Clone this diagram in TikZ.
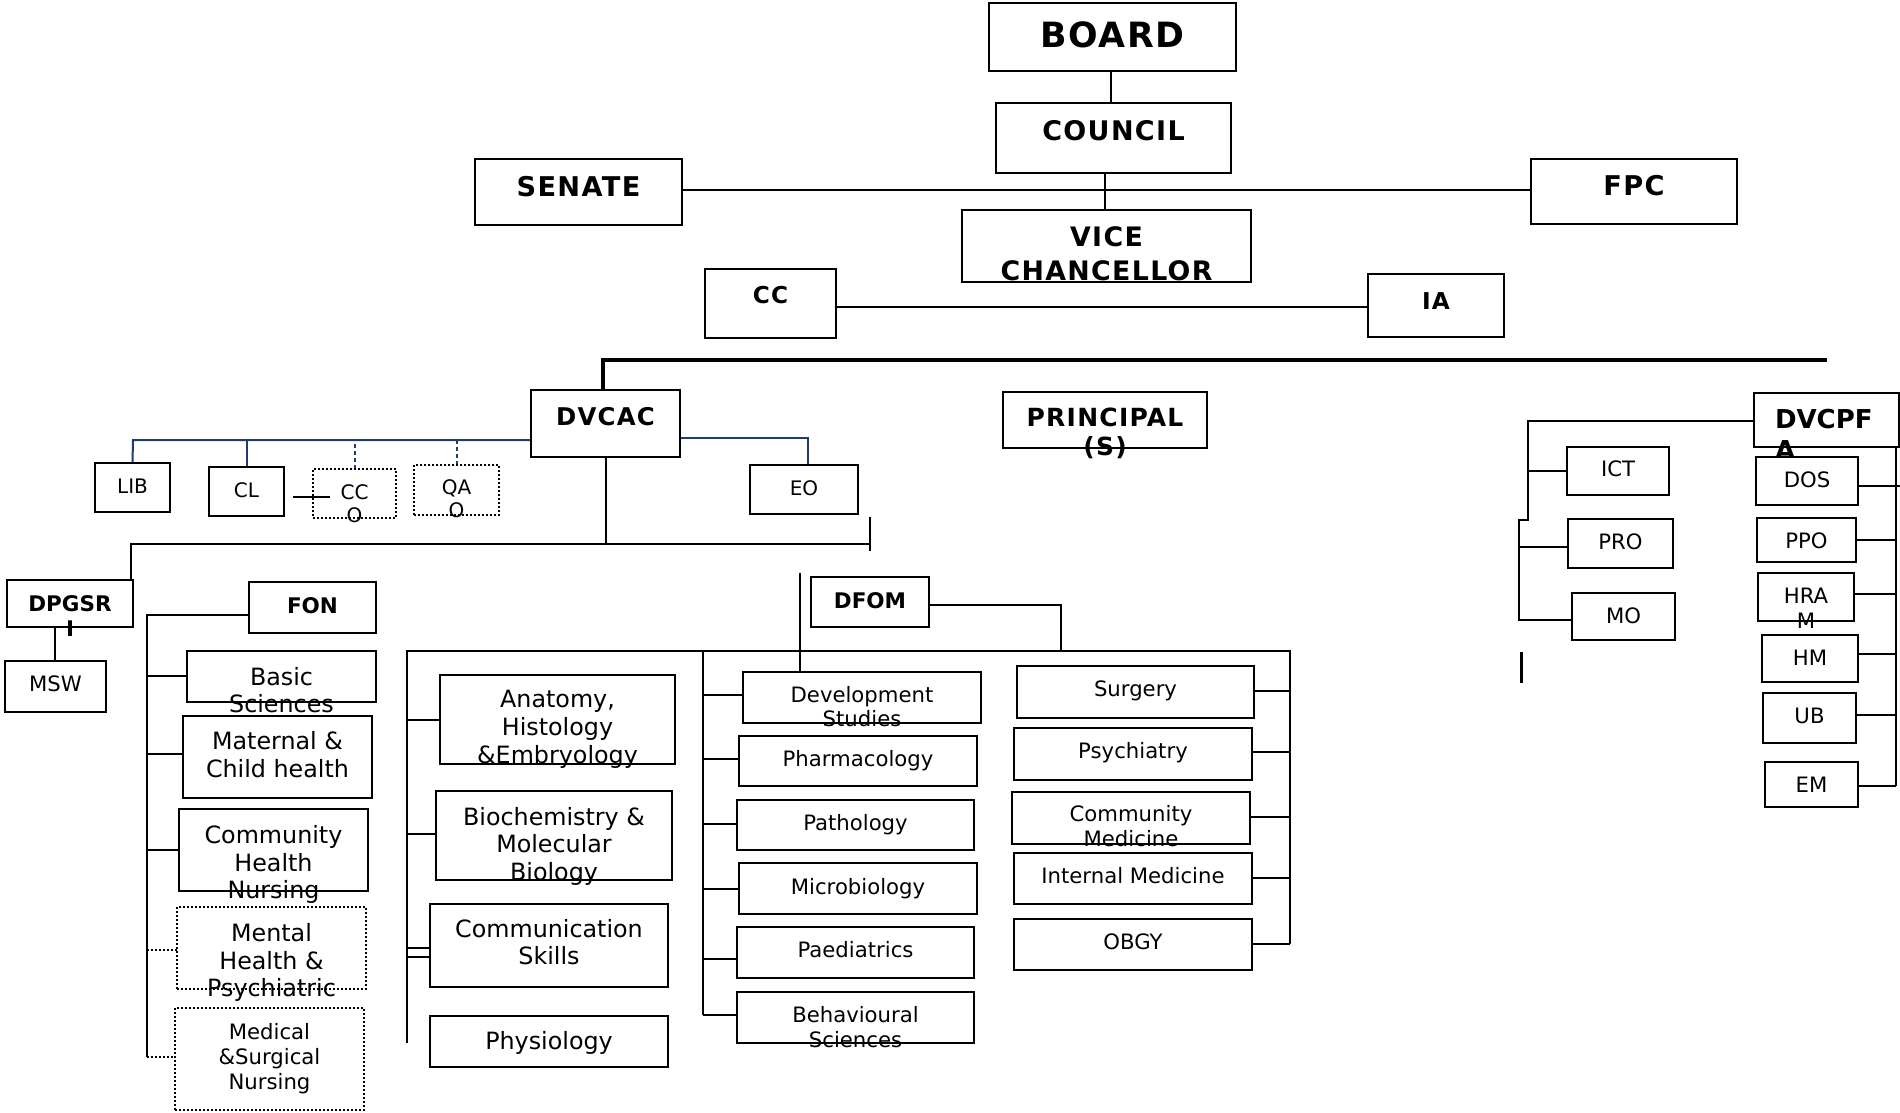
\documentclass[tikz,border=0pt]{standalone}
\usepackage{fontspec}
\setmainfont{DejaVu Sans}
\newfontfamily\spaced[LetterSpace=5]{DejaVu Sans}
\usetikzlibrary{backgrounds}
\definecolor{navy}{HTML}{1F3B73}
\newcommand\fz[2]{\fontsize{#1}{#2}\selectfont}
\newcommand\bx[6][]{\node[box,#1,minimum width={(#5-#3)*0.5pt},minimum height={(#6-#4)*0.5pt}] (#2) at ({(#3+#5)/2},{(#4+#6)/2}) {};}
\newcommand\tx[4][]{\node[txt,#1] (#2t) at ([yshift={-(#3)*0.5pt}]#2.north) {#4};}
\tikzset{
  box/.style={draw, line width=1pt, fill=white, inner sep=0pt, outer sep=0pt, shape=rectangle},
  dbox/.style={box, dash pattern=on 1pt off 1pt, line width=1pt},
  txt/.style={inner sep=0pt, outer sep=0pt, align=center, anchor=north, execute at begin node=\strut},
  con/.style={line width=0.9pt},
  conthin/.style={line width=0.7pt},
  nv/.style={draw=navy, line width=1pt},
  nvd/.style={nv, dash pattern=on 2pt off 1.5pt},
  tL/.style={font=\fz{11.9pt}{13.85pt}},
  tM/.style={font=\fz{10.6pt}{12.35pt}},
  tS/.style={font=\fz{10pt}{11.65pt}},
  tH/.style={font=\bfseries\fz{10.75pt}{12.5pt}},
}
\begin{document}
\begin{tikzpicture}[x=0.5pt,y=-0.5pt]
\useasboundingbox (0,0) rectangle (1900,1113);
% ---------- top level
\bx{board}{989}{3}{1236}{71}
\tx[font=\spaced\bfseries\fz{17.4pt}{20.2pt}]{board}{16.5}{BOARD}
\bx{council}{996}{103}{1231}{173}
\tx[font=\spaced\bfseries\fz{13.5pt}{15.7pt}]{council}{15.4}{COUNCIL}
\bx{senate}{475}{159}{682}{225}
\tx[font=\spaced\bfseries\fz{13.6pt}{15.8pt}]{senate}{15.7}{SENATE}
\bx{fpc}{1531}{159}{1737}{224}
\tx[font=\spaced\bfseries\fz{13.6pt}{15.8pt}]{fpc}{14}{FPC}
\bx{vc}{962}{210}{1251}{282}
\tx[font=\spaced\bfseries\fz{13.4pt}{17pt}]{vc}{17}{VICE\\CHANCELLOR}
\bx{cc}{705}{269}{836}{338}
\tx[font=\spaced\bfseries\fz{11.6pt}{13.5pt}]{cc}{15.3}{CC}
\bx{ia}{1368}{274}{1504}{337}
\tx[font=\spaced\bfseries\fz{11.6pt}{13.5pt}]{ia}{16.3}{IA}
\bx{dvcac}{531}{390}{680}{457}
\tx[font=\spaced\bfseries\fz{12.2pt}{14.2pt}]{dvcac}{15.8}{DVCAC}
\bx{principal}{1003}{392}{1207}{448}
\tx[font=\spaced\bfseries\fz{12.5pt}{14.8pt}]{principal}{15.5}{PRINCIPAL\\(S)}
\bx{dvcpfa}{1754}{393}{1899}{447}
\node[txt,anchor=north west,align=left,font=\bfseries\fz{13pt}{15.15pt}] (dvcpfat) at ([xshift=10.5pt,yshift=-8.2pt]dvcpfa.north west) {DVCPF\\A};
% ---------- DVCAC units
\bx{lib}{95}{463}{170}{512} \tx[tS]{lib}{14}{LIB}
\bx{cl}{209}{467}{284}{516} \tx[tS]{cl}{14}{CL}
\bx[dbox]{cco}{313}{469}{396}{518} \tx[tS]{cco}{15.5}{CC\\O}
\bx[dbox]{qao}{414}{465}{499}{515} \tx[tS]{qao}{14.5}{QA\\O}
\bx{eo}{750}{465}{858}{514} \tx[tS]{eo}{13.7}{EO}
\bx{dpgsr}{7}{580}{133}{627} \tx[tH]{dpgsr}{15.5}{DPGSR\\I}
\bx{msw}{5}{661}{106}{712} \tx[tM]{msw}{13.5}{MSW}
\bx{fon}{249}{582}{376}{633} \tx[tH]{fon}{13.5}{FON}
\bx{dfom}{811}{577}{929}{627} \tx[tH]{dfom}{13.5}{DFOM}
% ---------- FON
\bx{basic}{187}{651}{376}{702} \tx[tL]{basic}{16}{Basic\\Sciences}
\bx{maternal}{183}{716}{372}{798} \tx[tL]{maternal}{15.5}{Maternal \&\\Child health}
\bx{chn}{179}{809}{368}{891} \tx[tL]{chn}{16.3}{Community\\Health\\Nursing}
\bx[dbox]{mental}{177}{907}{366}{989} \tx[tL]{mental}{16.4}{Mental\\Health \&\\Psychiatric}
\bx[dbox]{medsurg}{175}{1008}{364}{1110} \tx[tM]{medsurg}{15.5}{Medical\\\&Surgical\\Nursing}
% ---------- medical column 1
\bx{anatomy}{440}{675}{675}{764} \tx[tL]{anatomy}{15.6}{Anatomy,\\Histology\\\&Embryology}
\bx{biochem}{436}{791}{672}{880} \tx[tL]{biochem}{16}{Biochemistry \&\\Molecular\\Biology}
\bx{comm}{430}{904}{668}{987} \tx[tL]{comm}{15}{Communication\\Skills}
\bx{physio}{430}{1016}{668}{1067} \tx[tL]{physio}{14.5}{Physiology}
% ---------- medical column 2
\bx{devst}{743}{672}{981}{723} \tx[tM]{devst}{14}{Development\\Studies}
\bx{pharm}{739}{736}{977}{786} \tx[tM]{pharm}{13.5}{Pharmacology}
\bx{path}{737}{800}{974}{850} \tx[tM]{path}{13.5}{Pathology}
\bx{micro}{739}{863}{977}{914} \tx[tM]{micro}{14.3}{Microbiology}
\bx{paed}{737}{927}{974}{978} \tx[tM]{paed}{12.8}{Paediatrics}
\bx{behav}{737}{992}{974}{1043} \tx[tM]{behav}{14.5}{Behavioural\\Sciences}
% ---------- medical column 3
\bx{surgery}{1017}{666}{1254}{718} \tx[tM]{surgery}{13}{Surgery}
\bx{psych}{1014}{728}{1252}{780} \tx[tM]{psych}{13.5}{Psychiatry}
\bx{commed}{1012}{792}{1250}{844} \tx[tM]{commed}{13.8}{Community\\Medicine}
\bx{intmed}{1014}{853}{1252}{904} \tx[tM]{intmed}{13.5}{Internal Medicine}
\bx{obgy}{1014}{919}{1252}{970} \tx[tM]{obgy}{13.5}{OBGY}
% ---------- DVCPFA units
\bx{ict}{1567}{447}{1669}{495} \tx[tM]{ict}{12.5}{ICT}
\bx{pro}{1568}{519}{1673}{568} \tx[tM]{pro}{13.5}{PRO}
\bx{mo}{1572}{593}{1675}{640} \tx[tM]{mo}{13.5}{MO}
\bx{dos}{1756}{457}{1858}{505} \tx[tM]{dos}{13}{DOS}
\bx{ppo}{1757}{518}{1856}{562} \tx[tM]{ppo}{13}{PPO}
\bx{hram}{1758}{573}{1854}{621} \tx[tM]{hram}{15.5}{HRA\\M}
\bx{hm}{1762}{635}{1858}{682} \tx[tM]{hm}{13.5}{HM}
\bx{ub}{1763}{693}{1856}{743} \tx[tM]{ub}{13.5}{UB}
\bx{emb}{1765}{762}{1858}{807} \tx[tM]{emb}{13}{EM}
% ---------- connectors
\coordinate (cclink) at (293,497);
\coordinate (cclinkend) at (330,497);
\draw[con] (cclink) -- (cclinkend);
\begin{scope}[on background layer]
\draw[conthin] (board.south -| 1111,0) -- (council.north -| 1111,0);
\draw[conthin] (council.south -| 1105,0) -- (vc.north -| 1105,0);
\draw[con] (senate.east |- 0,190) -- (fpc.west |- 0,190);
\draw[con] (cc.east |- 0,307) -- (ia.west |- 0,307);
\coordinate (thickR) at (1827,360);
\draw[line width=1.8pt] (dvcac.north -| 603,0) -- (603,360) -- (thickR);
% navy DVCAC links
\draw[nv] (dvcac.west |- 0,440) -- (133,440) -- (lib.north);
\draw[nv] (cl.north) -- (cl.north |- 0,440);
\draw[nvd] (cco.north) -- (cco.north |- 0,440);
\draw[nvd] (qao.north) -- (qao.north |- 0,440);
\draw[nv] (dvcac.east |- 0,438) -- (808,438) -- (eo.north -| 808,0);
% DVCAC down
\draw[con] (dvcac.south -| 606,0) -- (606,544);
\draw[con] (dpgsr.north -| 131,0) -- (131,544) -- (870,544);
\draw[con] (870,517) -- (870,551);
\draw[con] (dpgsr.south -| 55,0) -- (msw.north -| 55,0);
% FON tree
\draw[con] (fon.west |- 0,615) -- (147,615) -- (147,1057);
\draw[con] (147,676) -- (basic.west |- 0,676);
\draw[con] (147,754) -- (maternal.west |- 0,754);
\draw[con] (147,850) -- (chn.west |- 0,850);
\draw[con,dash pattern=on 1pt off 1pt] (147,950) -- (mental.west |- 0,950);
\draw[con,dash pattern=on 1pt off 1pt] (147,1057) -- (medsurg.west |- 0,1057);
% medical tree
\draw[con] (407,1043) -- (407,651) -- (1291,651);
\draw[con] (407,720) -- (anatomy.west |- 0,720);
\draw[con] (407,834) -- (biochem.west |- 0,834);
\draw[con] (407,948) -- (comm.west |- 0,948);
\draw[con] (407,957) -- (comm.west |- 0,957);
\draw[con] (703,651) -- (703,1015);
\draw[con] (703,695) -- (devst.west |- 0,695);
\draw[con] (703,759) -- (pharm.west |- 0,759);
\draw[con] (703,824) -- (path.west |- 0,824);
\draw[con] (703,889) -- (micro.west |- 0,889);
\draw[con] (703,959) -- (paed.west |- 0,959);
\draw[con] (703,1015) -- (behav.west |- 0,1015);
\draw[con] (1290,651) -- (1290,944);
\draw[con] (surgery.east |- 0,691) -- (1290,691);
\draw[con] (psych.east |- 0,752) -- (1290,752);
\draw[con] (commed.east |- 0,817) -- (1290,817);
\draw[con] (intmed.east |- 0,878) -- (1290,878);
\draw[con] (obgy.east |- 0,944) -- (1290,944);
\draw[con] (800,573) -- (devst.north -| 800,0);
\draw[con] (dfom.east |- 0,605) -- (1061,605) -- (1061,651);
% DVCPFA trees
\draw[con] (dvcpfa.west |- 0,421) -- (1528,421) -- (1528,520) -- (1519,520) -- (1519,620) -- (mo.west |- 0,620);
\draw[con] (1528,471) -- (ict.west |- 0,471);
\draw[con] (1519,547) -- (pro.west |- 0,547);
\draw[line width=1.5pt] (1521,652) -- (1521,683);
\draw[con] (dvcpfa.south -| 1896,0) -- (1896,786);
\draw[con] (dos.east |- 0,486) -- (1900,486);
\draw[con] (ppo.east |- 0,540) -- (1896,540);
\draw[con] (hram.east |- 0,594) -- (1896,594);
\draw[con] (hm.east |- 0,654) -- (1896,654);
\draw[con] (ub.east |- 0,715) -- (1896,715);
\draw[con] (emb.east |- 0,786) -- (1896,786);
\end{scope}
\end{tikzpicture}
\end{document}
